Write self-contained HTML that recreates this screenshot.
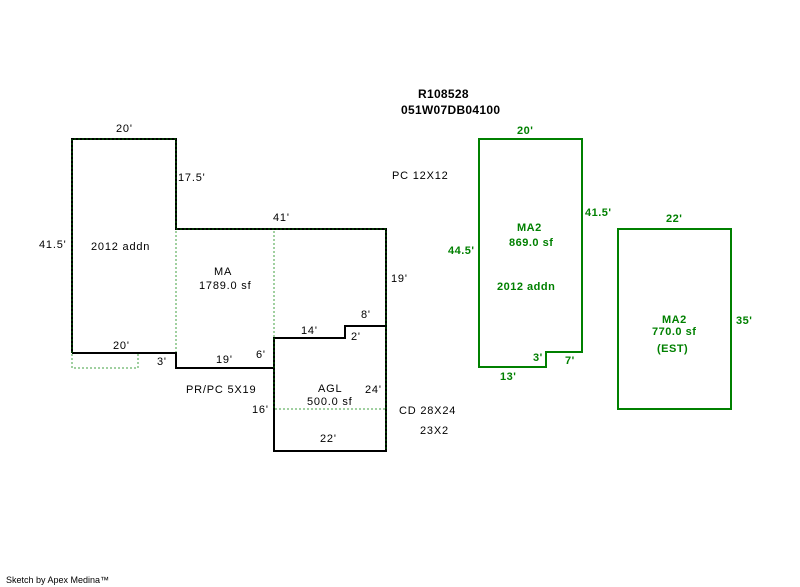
<!DOCTYPE html>
<html><head><meta charset="utf-8"><style>
body{margin:0;background:#fff;width:800px;height:587px;overflow:hidden}
svg{display:block}
text{font-family:"Liberation Sans",Arial,sans-serif;font-size:11px;fill:#000;letter-spacing:0.8px}
.g{fill:#008000;font-weight:bold;letter-spacing:0.5px}
.b{font-weight:bold;font-size:12px;letter-spacing:0.3px}
</style></head><body>
<svg width="800" height="587" viewBox="0 0 800 587">
<g fill="none" stroke="#000" stroke-width="2">
<polyline points="72,353 72,139 176,139 176,229 386,229 386,451 274,451 274,338 345,338 345,326 386,326"/>
<polyline points="72,353 176,353 176,368 274,368 274,338"/>
</g>
<g fill="none" stroke="#006400" stroke-width="1" stroke-dasharray="2,2">
<polyline points="72,353 72,139 176,139 176,229 386,229 386,451"/>
<line x1="274" y1="338" x2="274" y2="409"/>
</g>
<g fill="none" stroke="#80c080" stroke-width="1.5" stroke-dasharray="2,2">
<line x1="176" y1="231" x2="176" y2="352"/>
<line x1="274" y1="231" x2="274" y2="337"/>
<line x1="275" y1="409" x2="385" y2="409"/>
<polyline points="72,354 72,368 138,368 138,354"/>
</g>
<g fill="none" stroke="#008000" stroke-width="2">
<polygon points="479,139 582,139 582,352 546,352 546,367 479,367"/>
<rect x="618" y="229" width="113" height="180"/>
</g>
<text class="b" x="418" y="98">R108528</text>
<text class="b" x="401" y="114">051W07DB04100</text>
<text x="116" y="132">20'</text>
<text x="178" y="181">17.5'</text>
<text x="39" y="248">41.5'</text>
<text x="91" y="250">2012 addn</text>
<text x="273" y="221">41'</text>
<text x="214" y="275">MA</text>
<text x="199" y="289">1789.0 sf</text>
<text x="391" y="282">19'</text>
<text x="392" y="179">PC 12X12</text>
<text x="361" y="318">8'</text>
<text x="301" y="334">14'</text>
<text x="351" y="340">2'</text>
<text x="113" y="349">20'</text>
<text x="157" y="365">3'</text>
<text x="216" y="363">19'</text>
<text x="256" y="358">6'</text>
<text x="186" y="393">PR/PC 5X19</text>
<text x="318" y="392">AGL</text>
<text x="307" y="405">500.0 sf</text>
<text x="365" y="393">24'</text>
<text x="252" y="413">16'</text>
<text x="399" y="414">CD 28X24</text>
<text x="320" y="442">22'</text>
<text x="420" y="434">23X2</text>
<text class="g" x="517" y="134">20'</text>
<text class="g" x="585" y="216">41.5'</text>
<text class="g" x="448" y="254">44.5'</text>
<text class="g" x="517" y="231">MA2</text>
<text class="g" x="509" y="246">869.0 sf</text>
<text class="g" x="497" y="290">2012 addn</text>
<text class="g" x="533" y="361">3'</text>
<text class="g" x="565" y="364">7'</text>
<text class="g" x="500" y="380">13'</text>
<text class="g" x="666" y="222">22'</text>
<text class="g" x="662" y="323">MA2</text>
<text class="g" x="652" y="335">770.0 sf</text>
<text class="g" x="657" y="352">(EST)</text>
<text class="g" x="736" y="324">35'</text>
<text x="6" y="583" style="font-size:9px;letter-spacing:0">Sketch by Apex Medina™</text>
</svg>
</body></html>
